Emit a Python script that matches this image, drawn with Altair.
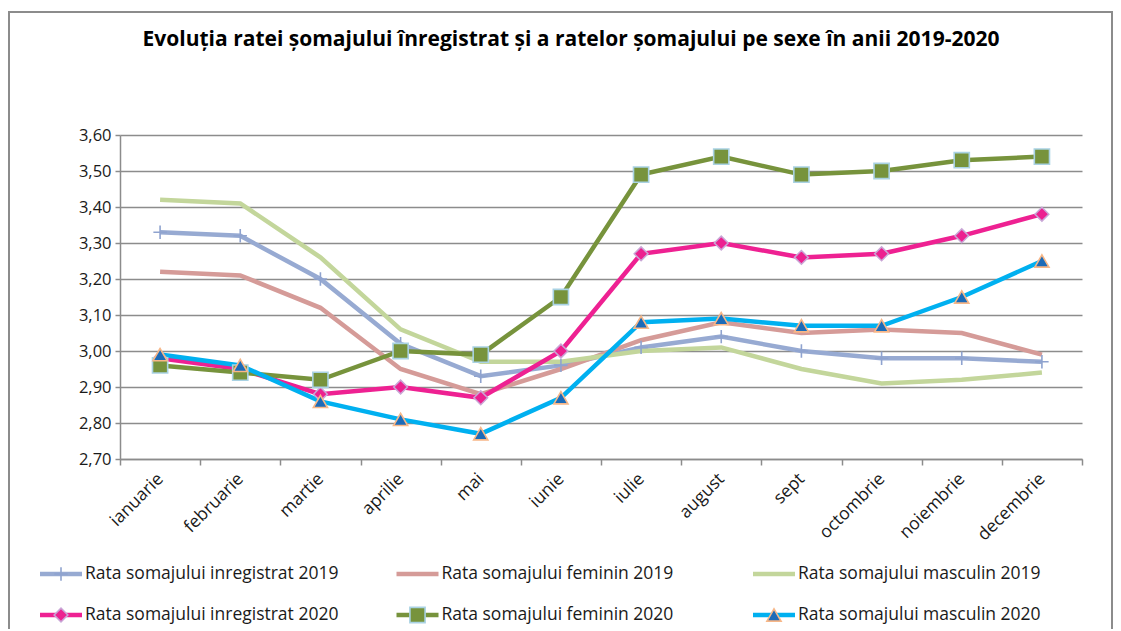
import altair as alt
import pandas as pd

months = ["ianuarie", "februarie", "martie", "aprilie", "mai", "iunie", "iulie",
          "august", "sept", "octombrie", "noiembrie", "decembrie"]

series = ["Rata somajului inregistrat 2019", "Rata somajului feminin 2019",
          "Rata somajului masculin 2019", "Rata somajului inregistrat 2020",
          "Rata somajului feminin 2020", "Rata somajului masculin 2020"]

inreg_2019 = [3.33, 3.32, 3.20, 3.02, 2.93, 2.96, 3.01, 3.04, 3.00, 2.98, 2.98, 2.97]
fem_2019 = [3.22, 3.21, 3.12, 2.95, 2.88, 2.95, 3.03, 3.08, 3.05, 3.06, 3.05, 2.99]
masc_2019 = [3.42, 3.41, 3.26, 3.06, 2.97, 2.97, 3.00, 3.01, 2.95, 2.91, 2.92, 2.94]
inreg_2020 = [2.98, 2.95, 2.88, 2.90, 2.87, 3.00, 3.27, 3.30, 3.26, 3.27, 3.32, 3.38]
fem_2020 = [2.96, 2.94, 2.92, 3.00, 2.99, 3.15, 3.49, 3.54, 3.49, 3.50, 3.53, 3.54]
masc_2020 = [2.99, 2.96, 2.86, 2.81, 2.77, 2.87, 3.08, 3.09, 3.07, 3.07, 3.15, 3.25]

y_ticks = [2.70, 2.80, 2.90, 3.00, 3.10, 3.20, 3.30, 3.40, 3.50, 3.60]

values = [inreg_2019, fem_2019, masc_2019, inreg_2020, fem_2020, masc_2020]

rows = []
for s, vals in zip(series, values):
    for m, v in zip(months, vals):
        rows.append({"luna": m, "serie": s, "rata": v})
df = pd.DataFrame(rows)

leg = pd.DataFrame({"serie": series,
                    "col": [i % 3 for i in range(len(series))],
                    "row": [i // 3 for i in range(len(series))]})

FONT = "Open Sans"

line_colors = ["#97AAD2", "#D59B98", "#C3D69B", "#EE2192", "#77933C", "#00B0F0"]
marker_styles = [
    dict(shape="M0,-1V1M-1,0H1", filled=False, stroke="#8FA3CF", strokeWidth=1.6, size=180),
    None,
    None,
    dict(shape="diamond", filled=True, fill="#EC2190", stroke="#C9A6D6", strokeWidth=1.5, size=190),
    dict(shape="square", filled=True, fill="#77933C", stroke="#A9D2E3", strokeWidth=1.6, size=230),
    dict(shape="triangle-up", filled=True, fill="#1C6BB8", stroke="#F7B788", strokeWidth=1.6, size=200),
]

x_enc = alt.X("luna:N", sort=months, bandPosition=0.5,
              scale=alt.Scale(type="band", paddingInner=0, paddingOuter=0),
              axis=alt.Axis(title=None, labelAngle=-45, labelAlign="right",
                            labelBaseline="middle", labelPadding=11, tickBand="extent",
                            tickSize=6, tickColor="#8C8C8C", tickWidth=1.5,
                            domainColor="#8C8C8C", domainWidth=1.5, grid=False,
                            labelFont=FONT, labelFontSize=17.5, labelColor="#1a1a1a"))
y_enc = alt.Y("rata:Q", scale=alt.Scale(domain=[2.7, 3.6], nice=False, zero=False),
              axis=alt.Axis(title=None, values=y_ticks,
                            labelExpr="replace(format(datum.value, '.2f'), '.', ',')",
                            tickSize=5, tickColor="#8C8C8C", tickWidth=1.5,
                            domainColor="#8C8C8C", domainWidth=1.5,
                            gridColor="#8C8C8C", gridWidth=1.5, labelPadding=4,
                            labelFont=FONT, labelFontSize=16.5, labelColor="#1a1a1a"))

base = alt.Chart(df)
main_layers = []
for s, c in zip(series, line_colors):
    main_layers.append(base.transform_filter(alt.datum.serie == s)
                       .mark_line(color=c, strokeWidth=4.5)
                       .encode(x=x_enc, y=y_enc))
for s, st in zip(series, marker_styles):
    if st is None:
        continue
    main_layers.append(base.transform_filter(alt.datum.serie == s)
                       .mark_point(opacity=1, **st)
                       .encode(x=x_enc, y=y_enc))
main = alt.layer(*main_layers)

lx = alt.X("col:Q", scale=alt.Scale(domain=[0, 2], range=[-80, 633], nice=False, zero=False), axis=None)
ly = alt.Y("row:Q", scale=alt.Scale(domain=[0, 1], range=[439, 480], nice=False, zero=False), axis=None)

lbase = alt.Chart(leg)
leg_layers = []
for s, c in zip(series, line_colors):
    leg_layers.append(lbase.transform_filter(alt.datum.serie == s)
                      .mark_rule(color=c, strokeWidth=4.5, x2Offset=42)
                      .encode(x=lx, x2="col:Q", y=ly))
for s, st in zip(series, marker_styles):
    if st is None:
        continue
    leg_layers.append(lbase.transform_filter(alt.datum.serie == s)
                      .mark_point(opacity=1, xOffset=21, **st)
                      .encode(x=lx, y=ly))
leg_layers.append(lbase.mark_text(align="left", baseline="middle", xOffset=45,
                                  font=FONT, fontSize=17.5, color="#1a1a1a")
                  .encode(x=lx, y=ly, text="serie:N"))
legend = alt.layer(*leg_layers)

frame = alt.Chart(leg).mark_rect(filled=False, stroke="#8C8C8C", strokeWidth=2).encode(
    x=alt.value(-111), x2=alt.value(992), y=alt.value(-123), y2=alt.value(560))

chart = alt.layer(main, legend, frame).resolve_scale(x="independent", y="independent").properties(
    width=962, height=324,
    title=alt.TitleParams(
        "Evoluția ratei șomajului înregistrat și a ratelor șomajului pe sexe în anii 2019-2020",
        font=FONT, fontSize=21, fontWeight="bold", color="#000000",
        anchor="middle", frame="group", baseline="alphabetic", offset=-56, dx=-30),
    autosize=alt.AutoSizeParams(type="none"),
    padding={"left": 112, "top": 127, "right": 31, "bottom": 170},
).configure_view(stroke=None)

chart.save("out.html", embed_options={"renderer": "svg", "actions": False})
